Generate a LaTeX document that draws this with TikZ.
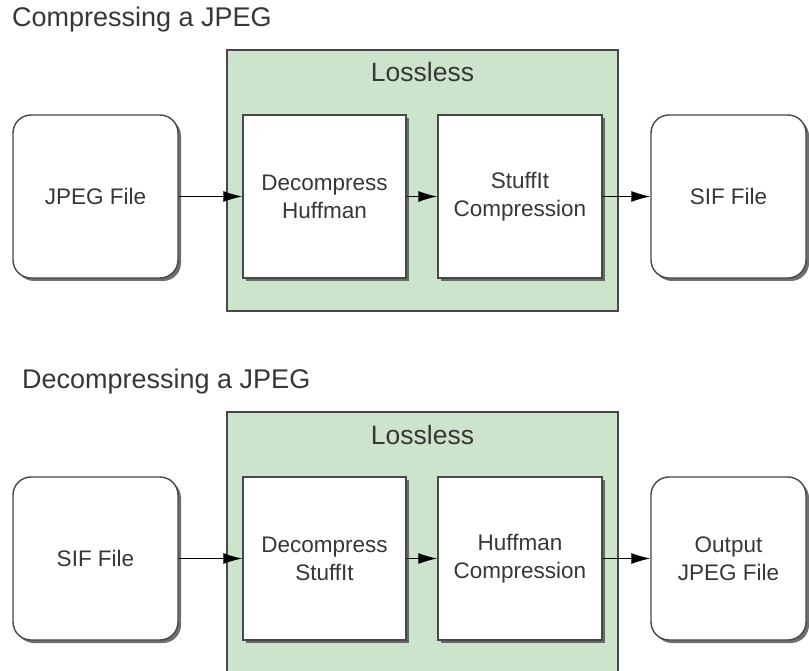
\documentclass[tikz,border=0pt]{standalone}
\usepackage{fontspec}
\setmainfont{Liberation Sans}
\usetikzlibrary{arrows.meta,shadows}
\definecolor{greenfill}{RGB}{203,228,203}
\definecolor{edgegray}{RGB}{72,72,72}
\definecolor{textgray}{RGB}{55,55,55}
\tikzset{
  procbox/.style={draw=edgegray, line width=1.4pt, fill=white, minimum height=163pt, inner sep=0pt,
    align=center, text=textgray, font=\fontsize{22.5}{28}\selectfont,
    drop shadow={shadow xshift=3pt, shadow yshift=-3pt, fill=black!70, opacity=0.8}},
  filebox/.style={procbox, rounded corners=18pt},
  groupbox/.style={draw=edgegray, line width=1.2pt, fill=greenfill},
  titletext/.style={anchor=base west, inner sep=0pt, text=textgray, font=\fontsize{27}{32}\selectfont},
  grouplabel/.style={anchor=base, inner sep=0pt, text=textgray, font=\fontsize{26.5}{30}\selectfont},
  flow/.style={draw=black, line width=1.2pt, -{Latex[length=19pt,width=11pt]}}
}
\begin{document}
\begin{tikzpicture}[x=1pt,y=-1pt]
\useasboundingbox (0,0) rectangle (809,671);
\clip (0,0) rectangle (809,671);
\fill[white] (0,0) rectangle (809,671);
% top section
\node[titletext] (t1) at (12,27) {Compressing a JPEG};
\draw[groupbox] (227,50) rectangle (618,311);
\node[grouplabel] (l1) at (422.5,82) {Lossless};
\node[filebox, minimum width=165pt] (jpeg) at (95.5,196.5) {JPEG File};
\node[procbox, minimum width=163pt] (dh) at (324.5,196.5) {Decompress\\Huffman};
\node[procbox, minimum width=164pt] (sc) at (520,196.5) {StuffIt\\Compression};
\node[filebox, minimum width=155pt] (sif) at (728.5,196.5) {SIF File};
\draw[flow] (jpeg) -- (dh);
\draw[flow] (dh) -- (sc);
\draw[flow] (sc) -- (sif);
% bottom section
\node[titletext] (t2) at (22,388) {Decompressing a JPEG};
\draw[groupbox] (227,412) rectangle (618,690);
\node[grouplabel] (l2) at (422.5,444) {Lossless};
\node[filebox, minimum width=165pt] (sif2) at (95.5,558.5) {SIF File};
\node[procbox, minimum width=163pt] (ds) at (324.5,558.5) {Decompress\\StuffIt};
\node[procbox, minimum width=164pt] (hc) at (520,558.5) {Huffman\\Compression};
\node[filebox, minimum width=155pt] (out) at (728.5,558.5) {Output\\JPEG File};
\draw[flow] (sif2) -- (ds);
\draw[flow] (ds) -- (hc);
\draw[flow] (hc) -- (out);
\end{tikzpicture}
\end{document}
